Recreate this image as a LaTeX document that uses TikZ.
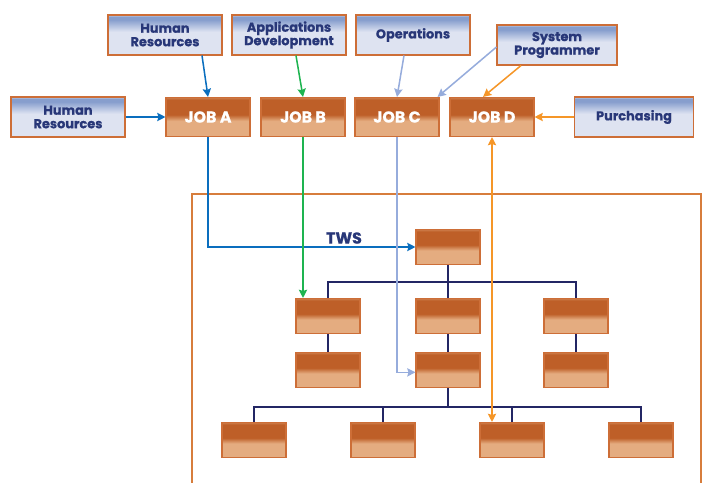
\documentclass[tikz,border=0pt]{standalone}
\usepackage{fontspec}
\setmainfont{Poppins}[BoldFeatures={FakeBold=0.8}]
\usetikzlibrary{arrows.meta,calc}

\definecolor{boxedge}{RGB}{205,110,55}
\definecolor{framecol}{RGB}{215,125,60}
\definecolor{deptdark}{RGB}{135,158,205}
\definecolor{deptlight}{RGB}{222,227,241}
\definecolor{deptblue}{RGB}{40,55,120}
\definecolor{jobdark}{RGB}{190,95,40}
\definecolor{joblight}{RGB}{228,172,128}
\definecolor{busnavy}{RGB}{35,38,100}
\definecolor{lineA}{RGB}{10,110,190}
\definecolor{lineB}{RGB}{30,180,80}
\definecolor{lineC}{RGB}{150,172,220}
\definecolor{lineD}{RGB}{245,150,40}

\pgfdeclareverticalshading{deptshade}{100bp}{color(0bp)=(deptlight); color(25bp)=(deptlight);
  color(54bp)=(deptlight); color(69bp)=(deptdark); color(73bp)=(deptdark);
  color(75bp)=(deptdark!40!white); color(100bp)=(deptdark!40!white)}
\pgfdeclareverticalshading{jobshade}{100bp}{color(0bp)=(joblight); color(25bp)=(joblight);
  color(45bp)=(joblight); color(53bp)=(jobdark); color(72bp)=(jobdark);
  color(75bp)=(jobdark!60!joblight); color(100bp)=(jobdark!60!joblight)}

\begin{document}
\begin{tikzpicture}[x=0.03cm, y=-0.03cm,
    dept/.style={draw=boxedge, line width=0.9pt, shading=deptshade, minimum width=3.42cm,
                 minimum height=1.2cm, inner sep=0pt, align=center, text=deptblue,
                 font=\bfseries\fontsize{11}{11.5}\selectfont},
    job/.style={draw=boxedge, line width=0.9pt, shading=jobshade, minimum width=2.52cm,
                minimum height=1.17cm, inner sep=0pt, text=white,
                font=\bfseries\fontsize{13.5}{14}\selectfont},
    task/.style={job, minimum width=1.92cm, minimum height=1.05cm},
    link/.style={line width=1.3pt, -{Stealth[length=7pt,width=7pt,inset=1pt]}},
    bus/.style={draw=busnavy, line width=1.5pt}]
      \useasboundingbox (0, 0) rectangle (707, 483);
      \draw[framecol, line width=1.2pt] (192, 483) -- (192, 194) -- (701, 194) -- (701, 483);
      \draw (165, 35) node (hrtop) [dept] {Human\\Resources}
            (289, 35) node (appdev) [dept] {Applications\\Development}
            (413, 35) node (ops) [dept] {Operations}
            (557, 45) node (sysprog) [dept, minimum width=3.6cm] {System\\Programmer}
            (68, 117) node (hrleft) [dept] {Human\\Resources}
            (634, 117) node (purch) [dept, minimum width=3.57cm] {Purchasing};
      \draw (208, 117) node (joba) [job] {JOB A}
            (303, 117) node (jobb) [job] {JOB B}
            (397, 117) node (jobc) [job] {JOB C}
            (492, 117) node (jobd) [job] {JOB D};
      \draw (448, 247) node (root) [task] {}
            (328, 316) node (l2a) [task] {}
            (448, 316) node (l2b) [task] {}
            (576, 316) node (l2c) [task] {}
            (328, 370) node (l3a) [task] {}
            (448, 370) node (l3b) [task] {}
            (576, 370) node (l3c) [task] {}
            (254, 440) node (l4a) [task] {}
            (383, 440) node (l4b) [task] {}
            (512, 440) node (l4c) [task] {}
            (641, 440) node (l4d) [task] {};
      \draw (344, 238) node (tws) [text=deptblue, font=\bfseries\fontsize{13.5}{14}\selectfont] {TWS};
      % tree connectors
      \coordinate (bus1) at (448, 282);
      \coordinate (bus2) at (448, 407);
      \draw[bus] (root.south) -- (l2b.north)
                 (l2a.north) |- (bus1) -| (l2c.north)
                 (l2a.south) -- (l3a.north)
                 (l2b.south) -- (l3b.north)
                 (l2c.south) -- (l3c.north)
                 (l3b.south) -- (bus2)
                 (l4a.north) |- (bus2) -| (l4d.north)
                 (l4b.north) -- (l4b.north |- bus2)
                 (l4c.north) -- (l4c.north |- bus2);
      % jobs into the tree
      \draw[link, lineA] (joba.south) |- (root.west);
      \draw[link, lineB] (jobb.south) -- (jobb.south |- l2a.north);
      \draw[link, lineC] (jobc.south) |- ([yshift=-2pt]l3b.west);
      \draw[link, lineD, {Stealth[length=7pt,width=7pt,inset=1pt]}-{Stealth[length=7pt,width=7pt,inset=1pt]}]
            (jobd.south) -- (jobd.south |- l4c.north);
      % departments into the jobs
      \draw[link, lineA] ($(hrtop.south)+(37, 0)$) -- (joba.north);
      \draw[link, lineA] (hrleft.east) -- (joba.west);
      \draw[link, lineB] ($(appdev.south)+(7, 0)$) -- (jobb.north);
      \draw[link, lineC] ($(ops.south)+(-9, 0)$) -- (jobc.north);
      \draw[link, lineC] ($(sysprog.west)+(0, 2)$) -- ($(jobc.north east)+(-2, 0)$);
      \draw[link, lineD] ($(sysprog.south)+(-36, 0)$) -- ($(jobd.north)+(-9, 0)$);
      \draw[link, lineD] (purch.west) -- (jobd.east);
\end{tikzpicture}
\end{document}
